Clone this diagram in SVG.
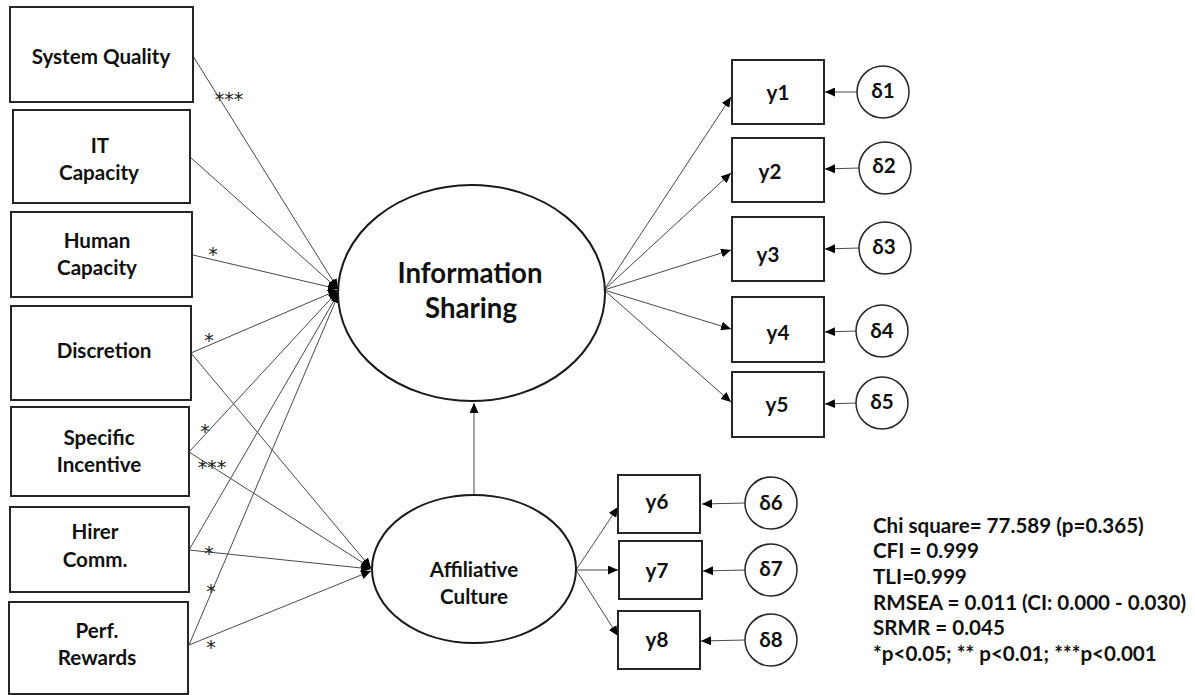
<svg xmlns="http://www.w3.org/2000/svg" width="1195" height="695" viewBox="0 0 1195 695">
<style>
.box{fill:#fff;stroke:#262626;stroke-width:2}
.ell{fill:#fff;stroke:#1a1a1a;stroke-width:2}
.err{fill:#fff;stroke:#262626;stroke-width:1.5}
.lbl{font-family:Lato,"Liberation Sans",sans-serif;font-weight:bold;font-size:20.6px;fill:#111;text-anchor:middle}
.big{font-size:27.6px}
.sig{font-family:"DejaVu Sans",sans-serif;font-size:19px;fill:#222;text-anchor:middle}
.stat{font-family:Lato,"Liberation Sans",sans-serif;font-weight:bold;font-size:20.6px;fill:#111}
.con{stroke:#4a4a4a;stroke-width:1;fill:none;marker-end:url(#ah)}
</style>
<defs>
<marker id="ah" markerUnits="userSpaceOnUse" markerWidth="11" markerHeight="9" refX="10" refY="4.5" orient="auto">
<path d="M0,0 L10,4.5 L0,9 z" fill="#000"/>
</marker>
</defs>
<rect width="1195" height="695" fill="#fff"/>
<g id="connectors">
<path class="con" d="M193,56 L338,289"/>
<path class="con" d="M190,157 L338,289"/>
<path class="con" d="M193,255 L338,289"/>
<path class="con" d="M191,353 L338,290"/>
<path class="con" d="M189,452 L338,291"/>
<path class="con" d="M189,550 L339,292"/>
<path class="con" d="M189,645 L339,293"/>
<path class="con" d="M191,353 L371,568"/>
<path class="con" d="M189,452 L371,568"/>
<path class="con" d="M189,550 L371,569"/>
<path class="con" d="M189,645 L371,571"/>
<path class="con" d="M474,495 L474,403"/>
<path class="con" d="M604,290 L731,97"/>
<path class="con" d="M604,290 L731,173"/>
<path class="con" d="M604,290 L731,250"/>
<path class="con" d="M604,290 L731,329"/>
<path class="con" d="M604,290 L731,402"/>
<path class="con" d="M576,570 L618,507"/>
<path class="con" d="M576,570 L618,570"/>
<path class="con" d="M576,570 L618,636"/>
<path class="con" d="M857,92 L825,92"/>
<path class="con" d="M859,168 L825,169"/>
<path class="con" d="M859,248 L825,249"/>
<path class="con" d="M856,331 L825,332"/>
<path class="con" d="M856,403 L825,404"/>
<path class="con" d="M745,503 L702,504"/>
<path class="con" d="M745,570 L703,571"/>
<path class="con" d="M745,640 L701,641"/>
</g>
<g id="sig-labels">
<text class="sig" x="229" y="106">***</text>
<text class="sig" x="213" y="261">*</text>
<text class="sig" x="209" y="347">*</text>
<text class="sig" x="205" y="438">*</text>
<text class="sig" x="212" y="474">***</text>
<text class="sig" x="209" y="560">*</text>
<text class="sig" x="211" y="598">*</text>
<text class="sig" x="211" y="654">*</text>
</g>
<g id="system-quality"><rect class="box" x="10" y="7" width="183" height="95"/><text class="lbl" x="101" y="64">System Quality</text></g>
<g id="it-capacity"><rect class="box" x="13" y="110" width="177" height="93"/><text class="lbl" x="100" y="153">IT</text><text class="lbl" x="99" y="180">Capacity</text></g>
<g id="human-capacity"><rect class="box" x="11" y="212" width="181" height="85"/><text class="lbl" x="97" y="248">Human</text><text class="lbl" x="97" y="275">Capacity</text></g>
<g id="discretion"><rect class="box" x="11" y="306" width="180" height="94"/><text class="lbl" x="104" y="358">Discretion</text></g>
<g id="specific-incentive"><rect class="box" x="11" y="407" width="178" height="89"/><text class="lbl" x="99" y="445">Specific</text><text class="lbl" x="99" y="472">Incentive</text></g>
<g id="hirer-comm"><rect class="box" x="10" y="507" width="179" height="85"/><text class="lbl" x="95" y="539">Hirer</text><text class="lbl" x="95" y="567">Comm.</text></g>
<g id="perf-rewards"><rect class="box" x="9" y="602" width="179" height="92"/><text class="lbl" x="97" y="638">Perf.</text><text class="lbl" x="97" y="665">Rewards</text></g>
<g id="information-sharing"><ellipse class="ell" cx="471.5" cy="293" rx="133.5" ry="108"/><text class="lbl big" x="470" y="283">Information</text><text class="lbl big" x="471" y="318">Sharing</text></g>
<g id="affiliative-culture"><ellipse class="ell" cx="474" cy="569" rx="102" ry="74"/><text class="lbl" x="474" y="577">Affiliative</text><text class="lbl" x="474" y="604">Culture</text></g>
<g id="y1"><rect class="box" x="732" y="60" width="92" height="64"/><text class="lbl" x="778" y="100">y1</text></g>
<g id="y2"><rect class="box" x="732" y="138" width="92" height="64"/><text class="lbl" x="770" y="179">y2</text></g>
<g id="y3"><rect class="box" x="732" y="217" width="92" height="64"/><text class="lbl" x="768" y="262">y3</text></g>
<g id="y4"><rect class="box" x="732" y="297" width="92" height="65"/><text class="lbl" x="778" y="340">y4</text></g>
<g id="y5"><rect class="box" x="732" y="372" width="92" height="65"/><text class="lbl" x="777" y="412">y5</text></g>
<g id="y6"><rect class="box" x="618" y="475" width="82" height="58"/><text class="lbl" x="657" y="509">y6</text></g>
<g id="y7"><rect class="box" x="619" y="541" width="83" height="58"/><text class="lbl" x="657" y="578">y7</text></g>
<g id="y8"><rect class="box" x="618" y="611" width="82" height="58"/><text class="lbl" x="657" y="647">y8</text></g>
<g id="d1"><circle class="err" cx="883" cy="92" r="26"/><text class="lbl" x="883" y="98">δ1</text></g>
<g id="d2"><circle class="err" cx="885" cy="168" r="26"/><text class="lbl" x="884" y="173">δ2</text></g>
<g id="d3"><circle class="err" cx="885" cy="248" r="26"/><text class="lbl" x="884" y="254">δ3</text></g>
<g id="d4"><circle class="err" cx="882" cy="331" r="26"/><text class="lbl" x="882" y="338">δ4</text></g>
<g id="d5"><circle class="err" cx="882" cy="403" r="26"/><text class="lbl" x="882" y="409">δ5</text></g>
<g id="d6"><circle class="err" cx="771" cy="503" r="26"/><text class="lbl" x="771" y="510">δ6</text></g>
<g id="d7"><circle class="err" cx="771" cy="570" r="26"/><text class="lbl" x="771" y="576">δ7</text></g>
<g id="d8"><circle class="err" cx="771" cy="640" r="26"/><text class="lbl" x="771" y="647">δ8</text></g>
<g id="fit-stats">
<text class="stat" x="873" y="533">Chi square= 77.589 (p=0.365)</text>
<text class="stat" x="873" y="558">CFI = 0.999</text>
<text class="stat" x="873" y="584">TLI=0.999</text>
<text class="stat" x="873" y="610">RMSEA = 0.011 (CI: 0.000 - 0.030)</text>
<text class="stat" x="873" y="635">SRMR = 0.045</text>
<text class="stat" x="873" y="661">*p&lt;0.05; ** p&lt;0.01; ***p&lt;0.001</text>
</g>
</svg>
